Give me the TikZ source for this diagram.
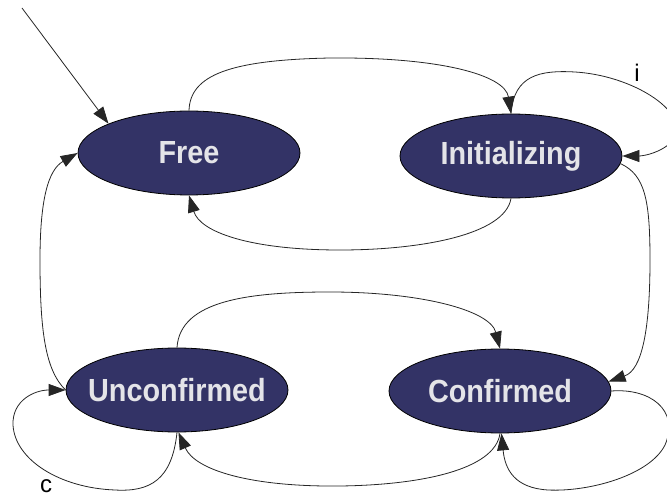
\documentclass[tikz,border=0pt]{standalone}
\usepackage{fontspec}
\usetikzlibrary{arrows.meta,shapes.geometric}
\newfontfamily\statefont[FakeStretch=0.9]{Liberation Sans}
\newfontfamily\labelfont{Liberation Sans}
\definecolor{statefill}{RGB}{51,51,102}
\definecolor{statetext}{RGB}{228,228,232}
\newcommand{\statename}[1]{\makebox[0pt]{#1}}
\tikzset{
  state/.style={ellipse, draw=black, line width=0.8pt, fill=statefill,
    minimum width=222pt, minimum height=84pt, inner sep=0pt,
    text=statetext, font=\statefont\bfseries\fontsize{32}{36}\selectfont},
  trans/.style={line width=0.8pt, draw=black!85,
    -{Triangle[length=17pt,width=12pt]}},
  tlabel/.style={font=\labelfont\fontsize{24}{28}\selectfont, inner sep=0pt}
}
\begin{document}
\begin{tikzpicture}[x=1pt,y=-1pt]
\useasboundingbox (0,0) rectangle (667,497);

\node[state] (free) at (189,153) {\statename{Free}};
\node[state] (init) at (511,156) {\statename{Initializing}};
\node[state] (unc)  at (177,390) {\statename{Unconfirmed}};
\node[state] (conf) at (500,391) {\statename{Confirmed}};

\coordinate (start) at (22,8);

% initial transition
\draw[trans] (start) -- (free.160);

% Free -> Initializing (over the top)
\draw[trans] (free.north) .. controls (190,75) and (230,60) .. (330,58)
  .. controls (440,57) and (505,75) .. (init.north);

% Initializing -> Free (underneath)
\draw[trans] (init.south) .. controls (505,235) and (420,250) .. (340,250)
  .. controls (250,250) and (200,232) .. (free.south);

% self loop i on Initializing
\draw[trans] (init.north) .. controls (514,75) and (540,70) .. (575,72)
  .. controls (640,76) and (700,120) .. (668,145)
  .. controls (655,155) and (640,156) .. (init.east);
\node[tlabel] (ilab) at (637,73) {i};

% Initializing -> Confirmed (right side)
\draw[trans] (init.-4) .. controls (645,175) and (650,200) .. (650,260)
  .. controls (650,330) and (642,370) .. (conf.5);

% Unconfirmed -> Free (left side)
\draw[trans] (unc.west) .. controls (45,370) and (40,330) .. (40,260)
  .. controls (40,200) and (48,170) .. (free.west);

% self loop c on Unconfirmed
\draw[trans] (unc.south) .. controls (172,480) and (150,492) .. (115,490)
  .. controls (60,488) and (15,460) .. (13,425)
  .. controls (12,400) and (35,390) .. (unc.west);
\node[tlabel] (clab) at (46,486) {c};

% Unconfirmed -> Confirmed (over the top)
\draw[trans] (unc.north) .. controls (180,300) and (250,292) .. (330,292)
  .. controls (420,292) and (490,310) .. (conf.north);

% Confirmed -> Unconfirmed (underneath)
\draw[trans] (conf.south) .. controls (495,470) and (420,485) .. (340,486)
  .. controls (250,487) and (195,470) .. (unc.-88);

% self loop on Confirmed
\draw[trans] (conf.east) .. controls (650,388) and (680,410) .. (665,445)
  .. controls (650,475) and (590,492) .. (548,490)
  .. controls (515,488) and (505,470) .. (conf.-88);
\end{tikzpicture}
\end{document}
